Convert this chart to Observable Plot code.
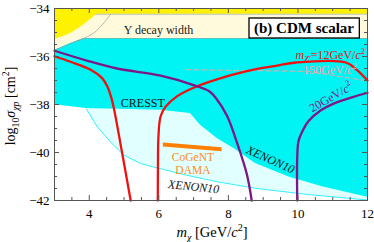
<!DOCTYPE html>
<html><head><meta charset="utf-8">
<script src="https://cdn.jsdelivr.net/npm/d3@7"></script>
<script src="https://cdn.jsdelivr.net/npm/@observablehq/plot@0.6"></script>
<style>body{margin:0;background:#fff}#chart{width:374px;height:242px}</style>
</head><body><div id="chart"></div>
<script>
// ---- data ----
const xMajor = [4, 6, 8, 10, 12];
const xMinor = [3.5, 4.5, 5, 5.5, 6.5, 7, 7.5, 8.5, 9, 9.5, 10.5, 11, 11.5];
const yMajor = [-34, -36, -38, -40, -42];
const yMinor = [-34.5, -35, -35.5, -36.5, -37, -37.5, -38.5, -39, -39.5, -40.5, -41, -41.5];

// CRESST / XENON10 excluded region (cyan), lower edge
const cyanX = [3, 3.92, 6.05, 6.91, 7.2, 7.68, 8.16, 8.78, 9.74, 10.7, 12];
const cyanY = [-38.01, -38.17, -38.24, -38.37, -38.86, -39.42, -39.83, -40.46, -41.02, -41.43, -41.86];
// XENON10 (low threshold) line, pale region
const paleX = [3.92, 4.23, 4.61, 4.99, 5.47, 5.95, 6.72, 7.68, 8.78, 10.22, 12];
const paleY = [-38.19, -38.93, -39.56, -40.11, -40.46, -40.64, -40.92, -41.22, -41.49, -41.74, -41.98];
// Upsilon decay width region (cream) lower edge
const creamX = [3, 3.2, 3.46, 3.65, 3.85, 12];
const creamY = [-35.74, -35.62, -35.46, -35.35, -35.25, -35.25];
const arcX = [3, 3.2, 3.46, 3.7, 3.94, 4.15, 4.32, 4.45, 4.52, 4.61];
const arcY = [-35.74, -35.62, -35.46, -35.33, -35.18, -35.0, -34.76, -34.55, -34.42, -34.24];
// yellow region
const yelX = [3, 3.2, 3.46, 3.65, 3.84, 4.0, 4.13, 4.28, 4.4];
const yelY = [-35.29, -35.2, -35.04, -34.88, -34.69, -34.5, -34.35, -34.15, -34.0];
const stripX = [3, 12];
const stripY = [-34.24, -34.24];
// m_Z' = 12 GeV curves (red)
const red1X = [3, 3.46, 4.04, 4.37, 4.52, 4.62, 4.7, 4.93, 5.19];
const red1Y = [-35.99, -36.22, -36.55, -36.9, -37.25, -37.65, -38.1, -39.9, -42];
const red2X = [5.97, 5.975, 5.99, 6.05, 6.19, 6.53, 7.0, 7.67, 8.5, 9.4, 9.95, 11.38, 11.7, 12];
const red2Y = [-42, -40.5, -39.3, -38.5, -38.1, -37.65, -37.3, -36.95, -36.62, -36.38, -36.25, -36.25, -36.57, -37.0];
// m_Z' = 20 GeV curves (purple)
const pur1X = [3, 4, 4.8, 6.05, 7.0, 7.45, 7.65, 7.96, 8.25, 8.53, 8.67];
const pur1Y = [-35.76, -36.2, -36.5, -36.8, -37.19, -37.45, -37.75, -38.47, -39.6, -40.9, -42];
const pur2X = [9.98, 9.98, 10.02, 10.15, 10.3, 10.65, 11.13, 11.6, 12];
const pur2Y = [-42, -40.2, -39.5, -39.05, -38.7, -38.25, -37.9, -37.68, -37.51];
// m_Z' = 150 GeV (dashed)
const dashX = [6.77, 10.3, 12];
const dashY = [-36.55, -36.62, -37.02];
// CoGeNT / DAMA band
const cogX = [6.13, 7.82];
const cogLo = [-39.77, -39.97];
const cogHi = [-39.6, -39.8];

const pts = (xs, ys) => xs.map((x, i) => ({x, y: ys[i]}));
const band = (xs, lo, hi) => xs.map((x, i) => ({x, lo: lo[i], hi: hi[i]}));

const serif = "'Liberation Serif', 'Times New Roman', serif";
const frameH = 242 - 8 - 42, frameW = 374 - 54 - 7;

const plot = Plot.plot({
  width: 374, height: 242,
  marginLeft: 54, marginRight: 7, marginTop: 8, marginBottom: 42,
  x: {domain: [3, 12]},
  y: {domain: [-42, -34]},
  style: {fontFamily: serif, fontSize: "13px", background: "white", color: "black"},
  marks: [
    Plot.areaY(pts(paleX, paleY), {x: "x", y1: "y", y2: -38, fill: "#e2ffff"}),
    Plot.line(pts(paleX, paleY), {x: "x", y: "y", stroke: "#30f0ff", strokeWidth: 1}),
    Plot.areaY(pts(cyanX, cyanY), {x: "x", y1: "y", y2: -34, fill: "#00f4f4"}),
    Plot.areaY(pts(creamX, creamY), {x: "x", y1: "y", y2: -34, fill: "#fffadc"}),
    Plot.line(pts(creamX.slice(3), creamY.slice(3)), {x: "x", y: "y", stroke: "#9a9a9a", strokeWidth: 0.6}),
    Plot.line(pts(arcX, arcY), {x: "x", y: "y", stroke: "#9a9a9a", strokeWidth: 0.7, curve: "catmull-rom"}),
    Plot.areaY(pts(stripX, stripY), {x: "x", y1: "y", y2: -34, fill: "#fff200"}),
    Plot.line(pts(stripX, stripY), {x: "x", y: "y", stroke: "#9a9a9a", strokeWidth: 0.6}),
    Plot.areaY(pts(yelX, yelY), {x: "x", y1: "y", y2: -34, fill: "#fff200", curve: "catmull-rom"}),
    Plot.line(pts(dashX, dashY), {x: "x", y: "y", stroke: "#f2a6a6", strokeWidth: 1, strokeDasharray: "5,3"}),
    Plot.line(pts(red1X, red1Y), {x: "x", y: "y", stroke: "#f01010", strokeWidth: 2.3, curve: "catmull-rom"}),
    Plot.line(pts(red2X, red2Y), {x: "x", y: "y", stroke: "#f01010", strokeWidth: 2.3, curve: "catmull-rom"}),
    Plot.line(pts(pur1X, pur1Y), {x: "x", y: "y", stroke: "#7e1785", strokeWidth: 2.3, curve: "catmull-rom"}),
    Plot.line(pts(pur2X, pur2Y), {x: "x", y: "y", stroke: "#7e1785", strokeWidth: 2.3, curve: "catmull-rom"}),
    Plot.areaY(band(cogX, cogLo, cogHi), {x: "x", y1: "lo", y2: "hi", fill: "#ff8000"}),
    Plot.text(["Υ decay width"], {x: 4.99, y: -34.9, textAnchor: "start", fontSize: 12, fill: "#222"}),
    Plot.text(["CRESST"], {x: 5.54, y: -37.94, fontSize: 12, fill: "#111"}),
    Plot.text(["XENON10"], {x: 9.21, y: -40.3, fontSize: 12, fontStyle: "italic", rotate: 24, fill: "#111"}),
    Plot.text(["XENON10"], {x: 7.0, y: -41.43, fontSize: 12, fontStyle: "italic", rotate: 6, fill: "#111"}),
    Plot.text(["CoGeNT"], {x: 6.98, y: -40.22, fontSize: 11.5, fill: "#ff8c1a"}),
    Plot.text(["DAMA"], {x: 6.98, y: -40.76, fontSize: 11.5, fill: "#ff8c1a"}),
    // inward ticks on all four sides
    Plot.ruleX(xMajor, {x: d => d, insetTop: frameH - 5, stroke: "#555"}),
    Plot.ruleX(xMinor, {x: d => d, insetTop: frameH - 3, stroke: "#555"}),
    Plot.ruleX(xMajor, {x: d => d, insetBottom: frameH - 5, stroke: "#555"}),
    Plot.ruleX(xMinor, {x: d => d, insetBottom: frameH - 3, stroke: "#555"}),
    Plot.ruleY(yMajor, {y: d => d, insetRight: frameW - 5, stroke: "#555"}),
    Plot.ruleY(yMinor, {y: d => d, insetRight: frameW - 3, stroke: "#555"}),
    Plot.ruleY(yMajor, {y: d => d, insetLeft: frameW - 5, stroke: "#555"}),
    Plot.ruleY(yMinor, {y: d => d, insetLeft: frameW - 3, stroke: "#555"}),
    Plot.frame({stroke: "#555"}),
    Plot.axisX({ticks: xMajor, tickSize: 0, tickPadding: 8, label: null}),
    Plot.axisY({ticks: yMajor, tickSize: 0, tickPadding: 5, label: null})
  ]
});
document.getElementById("chart").append(plot);

// ---- rich text labels (sub/superscripts) ----
const svg = d3.select(plot);
const sx = plot.scale("x"), sy = plot.scale("y");
function rich(x, y, parts, {size = 12, fill = "#000", anchor = "start", rotate = 0, weight = "normal"} = {}) {
  const t = svg.append("text")
    .attr("transform", `translate(${x},${y}) rotate(${rotate})`)
    .attr("text-anchor", anchor).attr("font-size", size).attr("fill", fill)
    .attr("font-weight", weight).attr("font-family", serif);
  let shift = 0;
  for (const [s, opt = ""] of parts) {
    const f = opt.split(" ");
    const sp = t.append("tspan").text(s);
    const ds = f.includes("sub") ? size * 0.3 : f.includes("sup") ? -size * 0.42 : 0;
    sp.attr("dy", ds - shift); shift = ds;
    if (f.includes("sub") || f.includes("sup")) sp.attr("font-size", size * 0.7);
    if (f.includes("i")) sp.attr("font-style", "italic");
  }
  return t;
}
rich(sx.apply(11.94), sy.apply(-36.11),
  [["m", "i"], ["Z′", "i sub"], ["=12GeV/"], ["c", "i"], ["2", "sup"]],
  {fill: "#f01010", anchor: "end"});
rich(sx.apply(11.70), sy.apply(-36.76),
  [["150GeV/"], ["c", "i"], ["2", "sup"]],
  {fill: "#f2a6a6", anchor: "end"});
rich(sx.apply(10.96), sy.apply(-37.72),
  [["20GeV/"], ["c", "i"], ["2", "sup"]],
  {fill: "#7e1785", anchor: "middle", rotate: -30}).attr("dy", 0).select("tspan").attr("dy", 4);
// axis labels
rich(15, 106, [["log"], ["10", "sub"], ["σ", "i"], ["χp", "i sub"], [" [cm"], ["2", "sup"], ["]"]],
  {size: 14, anchor: "middle", rotate: -90});
rich(212, 237, [["m", "i"], ["χ", "i sub"], [" [GeV/"], ["c", "i"], ["2", "sup"], ["]"]],
  {size: 14.5, anchor: "middle"});
// title box
const title = rich(304, 33, [["(b) CDM scalar"]], {size: 15, anchor: "middle", weight: "bold"});
const bb = title.node().getBBox();
svg.insert("rect", () => title.node())
  .attr("x", 304 + bb.x - 5).attr("y", 33 + bb.y - 2)
  .attr("width", bb.width + 10).attr("height", bb.height + 3)
  .attr("fill", "white").attr("stroke", "black").attr("stroke-width", 1.3);
</script></body></html>
